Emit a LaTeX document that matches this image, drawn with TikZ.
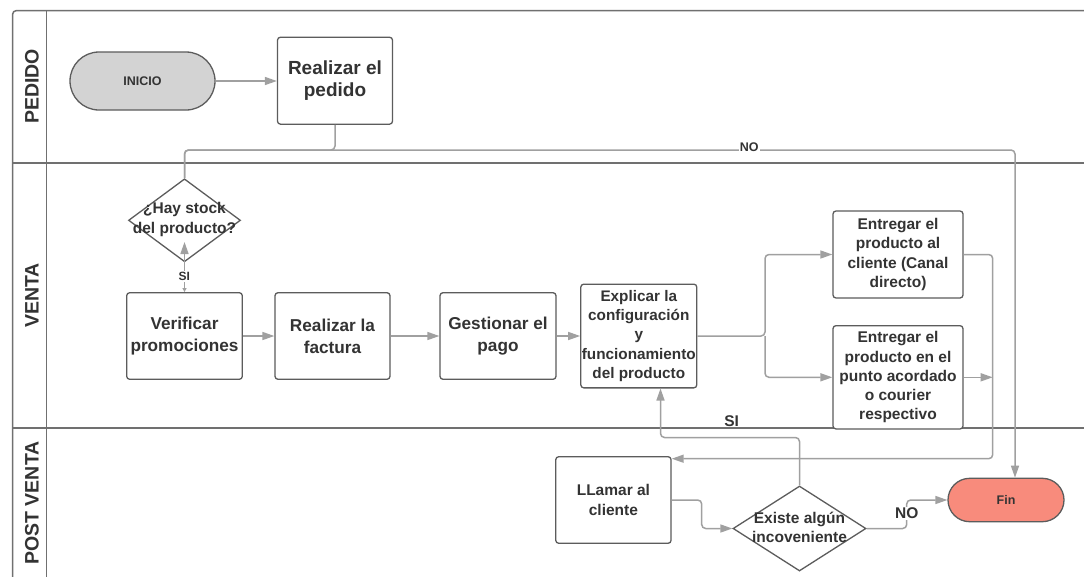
\documentclass[tikz,border=0pt]{standalone}
\usepackage{fontspec}
\setmainfont{Liberation Sans}
\usetikzlibrary{arrows.meta,shapes.geometric,shapes.misc}
\definecolor{lanec}{HTML}{707070}
\definecolor{bord}{HTML}{5C5C5C}
\definecolor{conn}{HTML}{A0A0A0}
\definecolor{txt}{HTML}{333333}
\definecolor{startfill}{HTML}{D3D3D3}
\definecolor{endfill}{HTML}{F88B7C}
\newcommand\fsz[2]{\fontsize{#1}{#2}\selectfont}
\begin{document}
\begin{tikzpicture}[x=1pt,y=-1pt,
  box/.style={draw=bord,line width=1.3pt,rounded corners=3pt,fill=white,align=center,text=txt,font=\bfseries\fsz{15.5}{19.3},inner sep=0pt},
  bigbox/.style={box,font=\bfseries\fsz{17.2}{22}},
  term/.style={rounded rectangle,draw=bord,line width=1.3pt,text=txt,font=\bfseries\fsz{12.5}{15},inner sep=0pt},
  dec/.style={diamond,draw=bord,line width=1.3pt,fill=white,inner sep=0pt},
  dectext/.style={align=center,text=txt,font=\bfseries\fsz{15.5}{19.5},inner sep=0pt},
  flow/.style={draw=conn,line width=1.5pt,rounded corners=4pt,-{Triangle[length=12pt,width=8pt]}},
  link/.style={draw=conn,line width=1.5pt,rounded corners=4pt},
  lbl/.style={text=txt,font=\bfseries\fsz{12.5}{15},fill=white,inner sep=1pt},
  biglbl/.style={text=txt,font=\bfseries\fsz{15.5}{18},inner sep=1pt},
  lanetitle/.style={rotate=90,text=txt,font=\bfseries\fsz{19.5}{22},inner sep=0pt},
  laneline/.style={draw=lanec,line width=1.5pt},
]
\fill[white] (0,0) rectangle (1084,576);
\useasboundingbox (0,0) rectangle (1084,576);

% swimlane frame
\draw[laneline,rounded corners=4pt] (1095,10.5) -- (12.5,10.5) -- (12.5,590);
\draw[laneline] (46.5,10.5) -- (46.5,590);
\draw[laneline] (12.5,163) -- (1095,163);
\draw[laneline] (12.5,428) -- (1095,428);

\node[lanetitle] (lpedido) at (32,86.5) {PEDIDO};
\node[lanetitle] (lventa) at (32,295.5) {VENTA};
\node[lanetitle] (lpost) at (32,503) {POST VENTA};

% nodes
\node[term,fill=startfill,minimum width=145,minimum height=58] (ini) at (142.5,81) {INICIO};
\node[box,font=\bfseries\fsz{19}{22.7},minimum width=115,minimum height=87] (ped) at (335,80.7) {Realizar el\\pedido};
\node[dec,minimum width=112,minimum height=83] (d1) at (184.5,220.3) {};
\node[dectext] (d1t) at (184.5,219.5) {¿Hay stock\\del producto?};
\node[bigbox,minimum width=115.6,minimum height=86.6] (ver) at (184.5,336) {Verificar\\promociones};
\node[bigbox,minimum width=115,minimum height=86.6] (fac) at (332.5,336) {Realizar la\\factura};
\node[bigbox,minimum width=116,minimum height=86.6] (ges) at (498,336) {Gestionar el\\pago};
\node[box,font=\bfseries\fsz{15.3}{19.3},minimum width=116,minimum height=103.7] (exp) at (638.8,336) {Explicar la\\configuración\\y\\funcionamiento\\del producto};
\node[box,minimum width=130,minimum height=87] (ent1) at (898,254.5) {Entregar el\\producto al\\cliente (Canal\\directo)};
\node[box,minimum width=130,minimum height=103.3] (ent2) at (898,377.3) {Entregar el\\producto en el\\punto acordado\\o courier\\respectivo};
\node[box,minimum width=115.3,minimum height=86.6] (lla) at (613.4,500) {LLamar al\\cliente};
\node[dec,minimum width=133,minimum height=85] (d2) at (799.5,528.5) {};
\node[dectext] (d2t) at (799.5,527.5) {Existe algún\\incoveniente};
\node[term,fill=endfill,minimum width=116,minimum height=43.4] (fin) at (1006,500) {Fin};

% helper coordinates
\coordinate (nol) at (184.5,150);
\coordinate (noc) at (1015,150);
\coordinate (d1in) at (184.5,242);
\coordinate (br) at (765,336);
\coordinate (rt) at (992.7,458.7);
\coordinate (k1) at (701.7,528.5);
\coordinate (k3) at (660.5,437.5);
\coordinate (k4) at (906.7,500);

% connectors
\draw[flow] (ini.east) -- (ini.east -| ped.west);
\draw[link] (ped.south) |- (nol) -- (d1.north);
\draw[flow] (d1.north) |- (noc) -- (noc |- fin.north);
\draw[draw=conn,line width=1.5pt,{Triangle[length=4pt,width=4pt]}-{Triangle[length=12pt,width=8pt]}] (ver.north) -- (d1in);
\draw[flow] (ver) -- (fac);
\draw[flow] (fac) -- (ges);
\draw[flow] (ges) -- (exp);
\draw[flow] (exp.east) -- (br) |- (ent1.west);
\draw[flow] (br) |- (ent2.west);
\draw[flow] (ent1.east) -| (rt) -- (rt -| lla.east);
\draw[flow] (ent2.east) -- (ent2.east -| rt);
\draw[flow] (lla.east) -| (k1) -- (d2.west);
\draw[flow] (d2.north) |- (k3) -- (k3 |- exp.south);
\draw[flow] (d2.east) -| (k4) -- (fin.west);

% labels
\node[lbl] (nolbl) at (749.3,147.5) {NO};
\node[lbl,font=\bfseries\fsz{12}{14}] (silbl) at (184.3,276.7) {SI};
\node[biglbl] (si2lbl) at (731.7,421.5) {SI};
\node[biglbl,fill=white] (no2lbl) at (906.7,513.3) {NO};
\end{tikzpicture}
\end{document}
